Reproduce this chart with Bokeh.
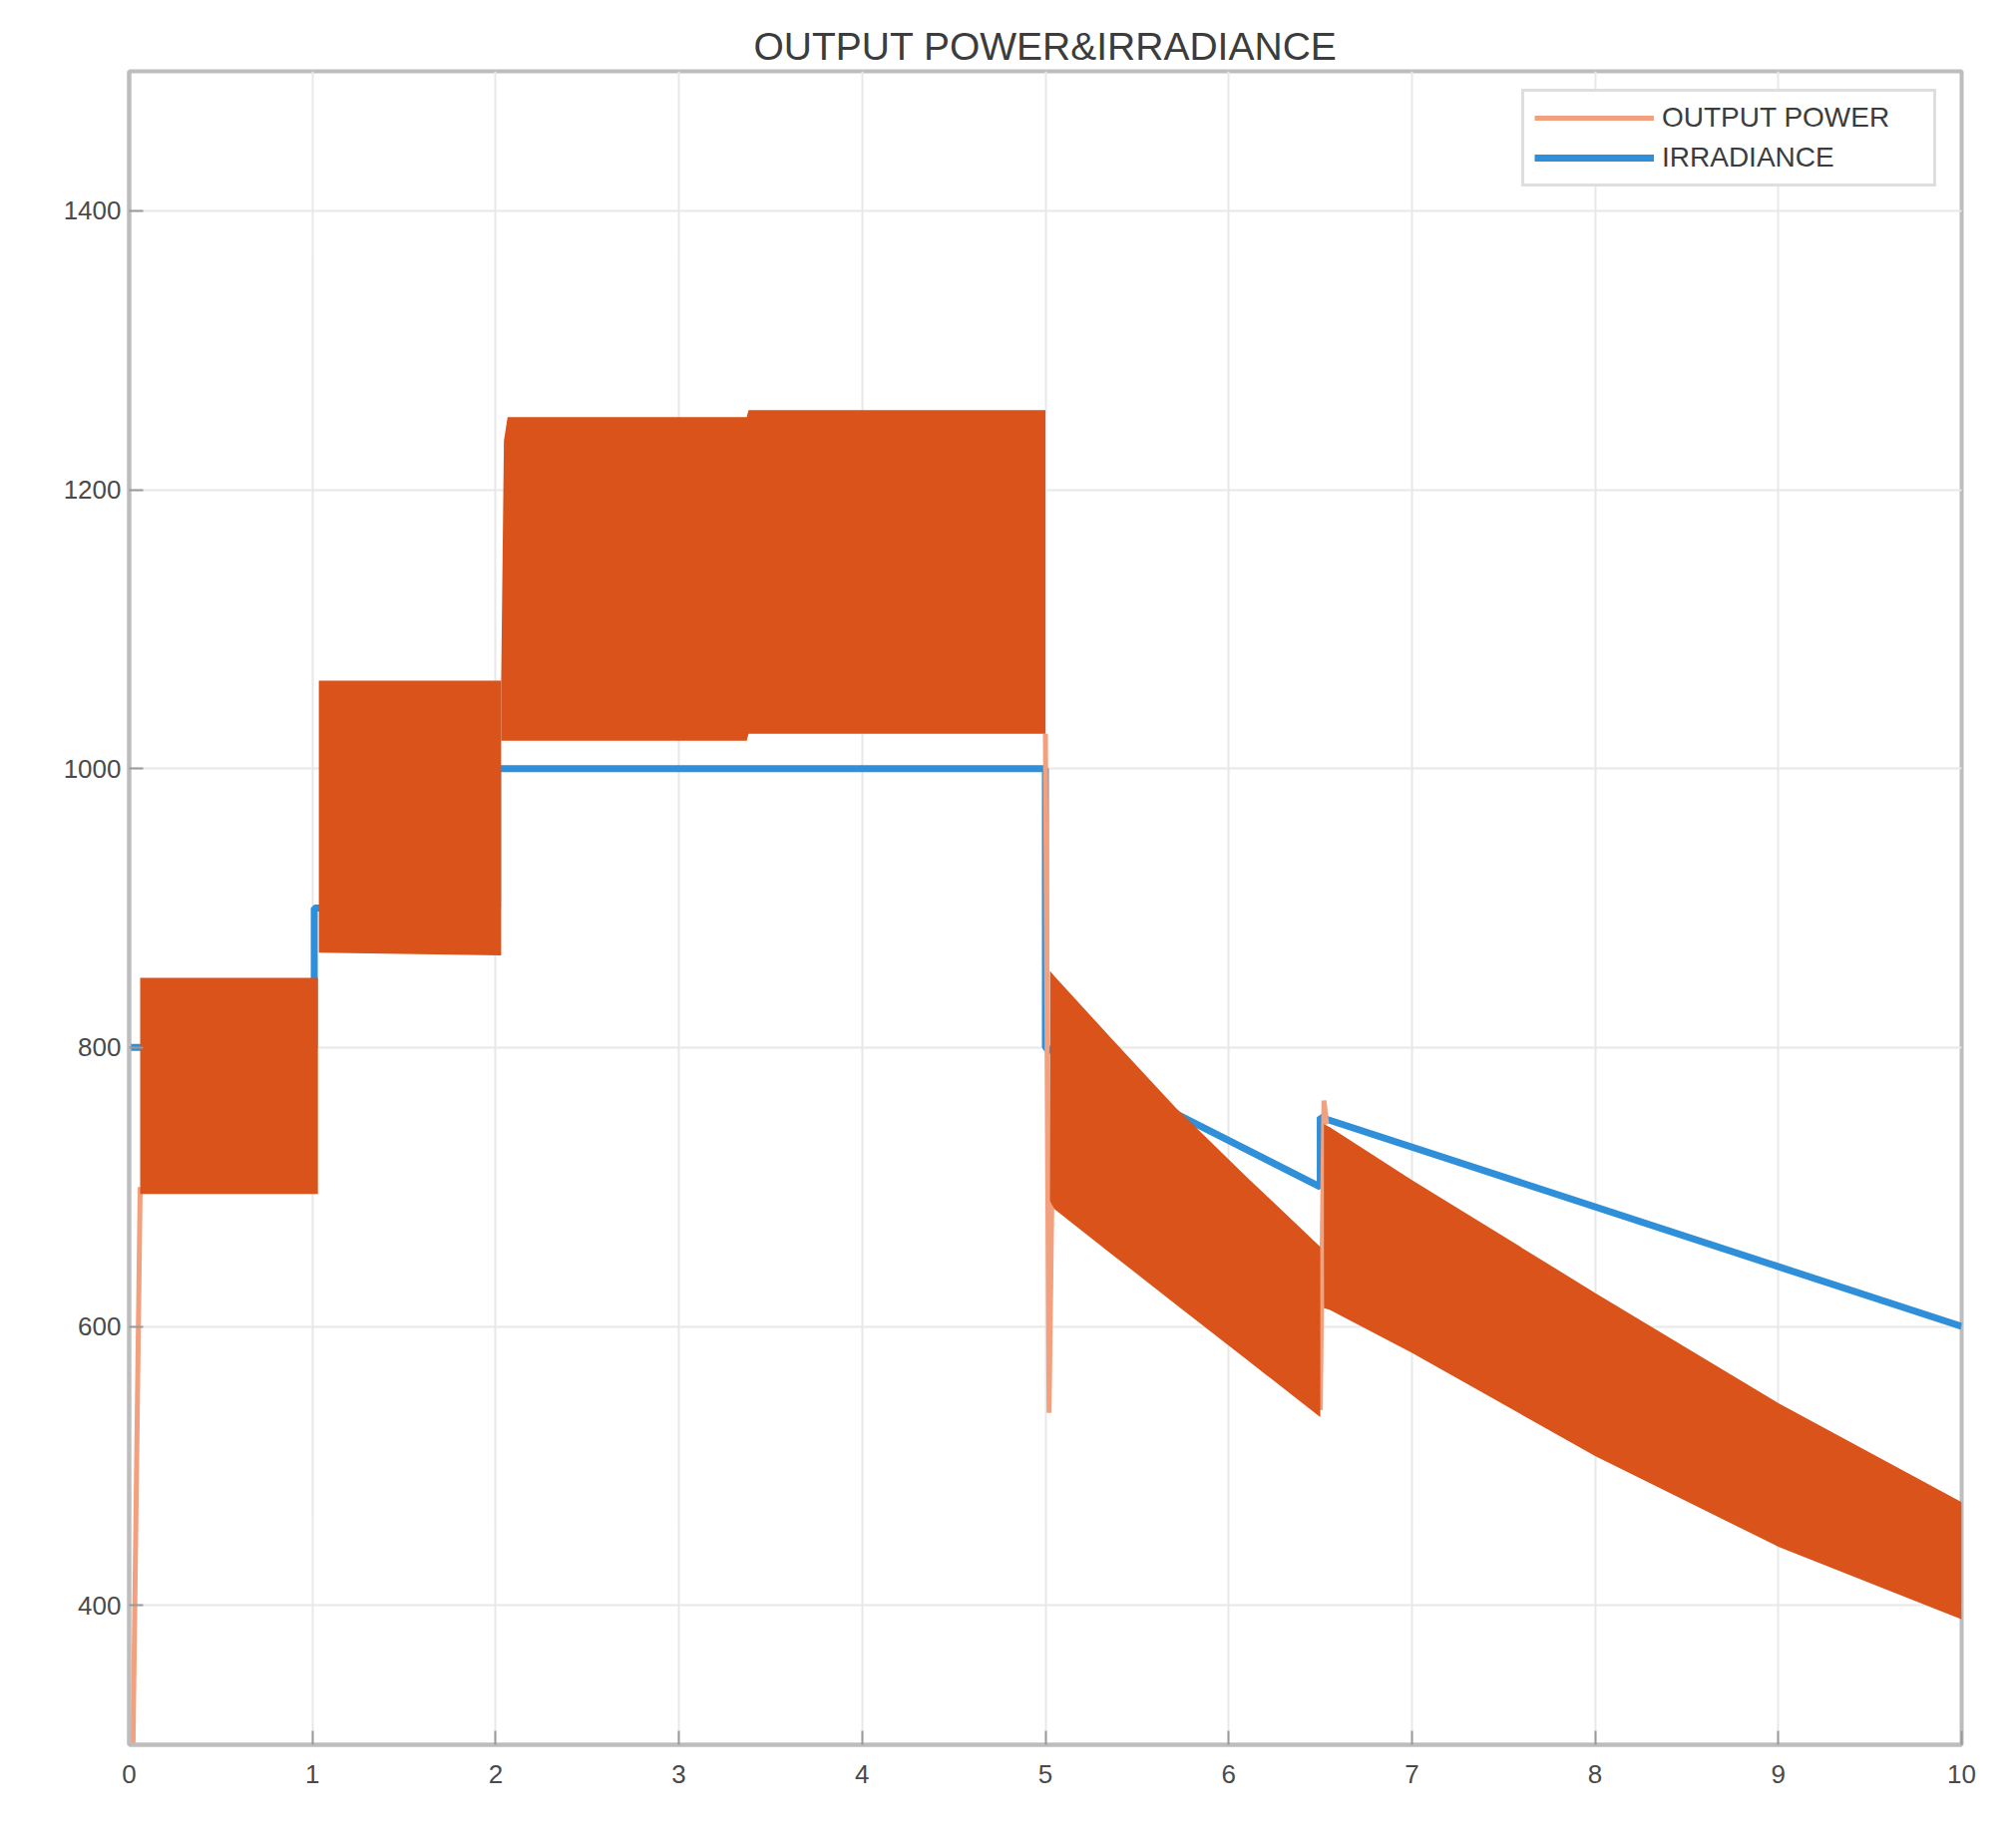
from bokeh.plotting import figure
from bokeh.models import Legend, LegendItem, Range1d, FixedTicker
from bokeh.embed import file_html
from bokeh.resources import INLINE

# ---- axes ----
x_ticks = [0, 1, 2, 3, 4, 5, 6, 7, 8, 9, 10]
y_ticks = [400, 600, 800, 1000, 1200, 1400]

# ---- IRRADIANCE (blue) ----
irr_t = [0.0, 1.01, 1.01, 2.01, 2.01, 5.0, 5.0, 6.5, 6.5, 10.0]
irr_v = [800, 800, 900, 900, 1000, 1000, 800, 700, 750, 600]

# ---- OUTPUT POWER: ripple envelope (upper / lower) for each interval ----
b1_t = [0.06, 1.03]
b1_hi = [850, 850]
b1_lo = [695, 695]

b2_t = [1.035, 2.03]
b2_hi = [1063, 1063]
b2_lo = [868, 866]

b3_t = [2.03, 2.045, 2.065, 3.37, 3.38, 5.0]
b3_hi = [1063, 1235, 1252, 1252, 1257, 1257]
b3_lo = [1020, 1020, 1020, 1020, 1025, 1025]

b4_t = [5.025, 5.05, 5.35, 5.71, 6.10, 6.50]
b4_hi = [855, 851, 808, 757, 707, 657]
b4_lo = [690, 684, 653, 616, 576, 535]

b5_t = [6.52, 6.55, 7.0, 8.0, 9.0, 10.0]
b5_hi = [745, 743, 705, 624, 545, 474]
b5_lo = [613, 612, 581, 507, 442, 390]

# transients of OUTPUT POWER (start-up and step changes)
tr_t = [[0.02, 0.06], [5.0, 5.02, 5.035], [6.5, 6.52, 6.535]]
tr_v = [[290, 700], [1025, 538, 690], [540, 762, 745]]

ORANGE = "#D9531A"
ORANGE_LIGHT = "#F2A07E"
BLUE = "#2F8FD8"
FONT = "Liberation Sans"

p = figure(width=2000, height=1820, output_backend="svg", toolbar_location=None,
           x_range=Range1d(0, 10), y_range=Range1d(300, 1500),
           min_border_left=129, min_border_right=34, min_border_top=71, min_border_bottom=71,
           title="OUTPUT POWER&IRRADIANCE")

p.title.align = "center"
p.title.text_font = FONT
p.title.text_font_size = "39px"
p.title.text_font_style = "normal"
p.title.text_color = "#3c3c3c"
p.title.standoff = 8

p.background_fill_color = "white"
p.border_fill_color = "white"
p.outline_line_color = "#BDBDBD"
p.outline_line_width = 4

for ax in (p.xaxis[0], p.yaxis[0]):
    ax.major_label_text_font = FONT
    ax.major_label_text_font_size = "26px"
    ax.major_label_text_color = "#4a4a4a"
    ax.axis_line_color = "#BDBDBD"
    ax.axis_line_width = 4
    ax.major_tick_in = 14
    ax.major_tick_out = 0
    ax.major_tick_line_color = "#9a9a9a"
    ax.major_tick_line_width = 2
    ax.minor_tick_line_color = None
p.xaxis.ticker = FixedTicker(ticks=x_ticks)
p.yaxis.ticker = FixedTicker(ticks=y_ticks)
p.xaxis.major_label_standoff = 20
p.yaxis.major_label_standoff = 8

p.xgrid.grid_line_color = "#E8E8E8"
p.ygrid.grid_line_color = "#E8E8E8"
p.xgrid.grid_line_width = 2
p.ygrid.grid_line_width = 2

irr = p.line(irr_t, irr_v, line_color=BLUE, line_width=7)
tr = p.multi_line(tr_t, tr_v, line_color=ORANGE_LIGHT, line_width=5)
for t, hi, lo in [(b1_t, b1_hi, b1_lo), (b2_t, b2_hi, b2_lo), (b3_t, b3_hi, b3_lo),
                  (b4_t, b4_hi, b4_lo), (b5_t, b5_hi, b5_lo)]:
    p.varea(x=t, y1=lo, y2=hi, fill_color=ORANGE)

legend = Legend(items=[LegendItem(label="OUTPUT POWER", renderers=[tr]),
                       LegendItem(label="IRRADIANCE", renderers=[irr])],
                location=(1396, 1562))
legend.label_text_font = FONT
legend.label_text_font_size = "28px"
legend.label_text_color = "#3c3c3c"
legend.glyph_width = 120
legend.glyph_height = 30
legend.label_height = 30
legend.label_width = 262
legend.label_standoff = 8
legend.spacing = 8
legend.padding = 10
legend.margin = 0
legend.border_line_color = "#BDBDBD"
legend.border_line_width = 3
legend.background_fill_color = "white"
legend.background_fill_alpha = 1.0
p.add_layout(legend, "center")

open("out.html", "w").write(file_html(p, INLINE))
